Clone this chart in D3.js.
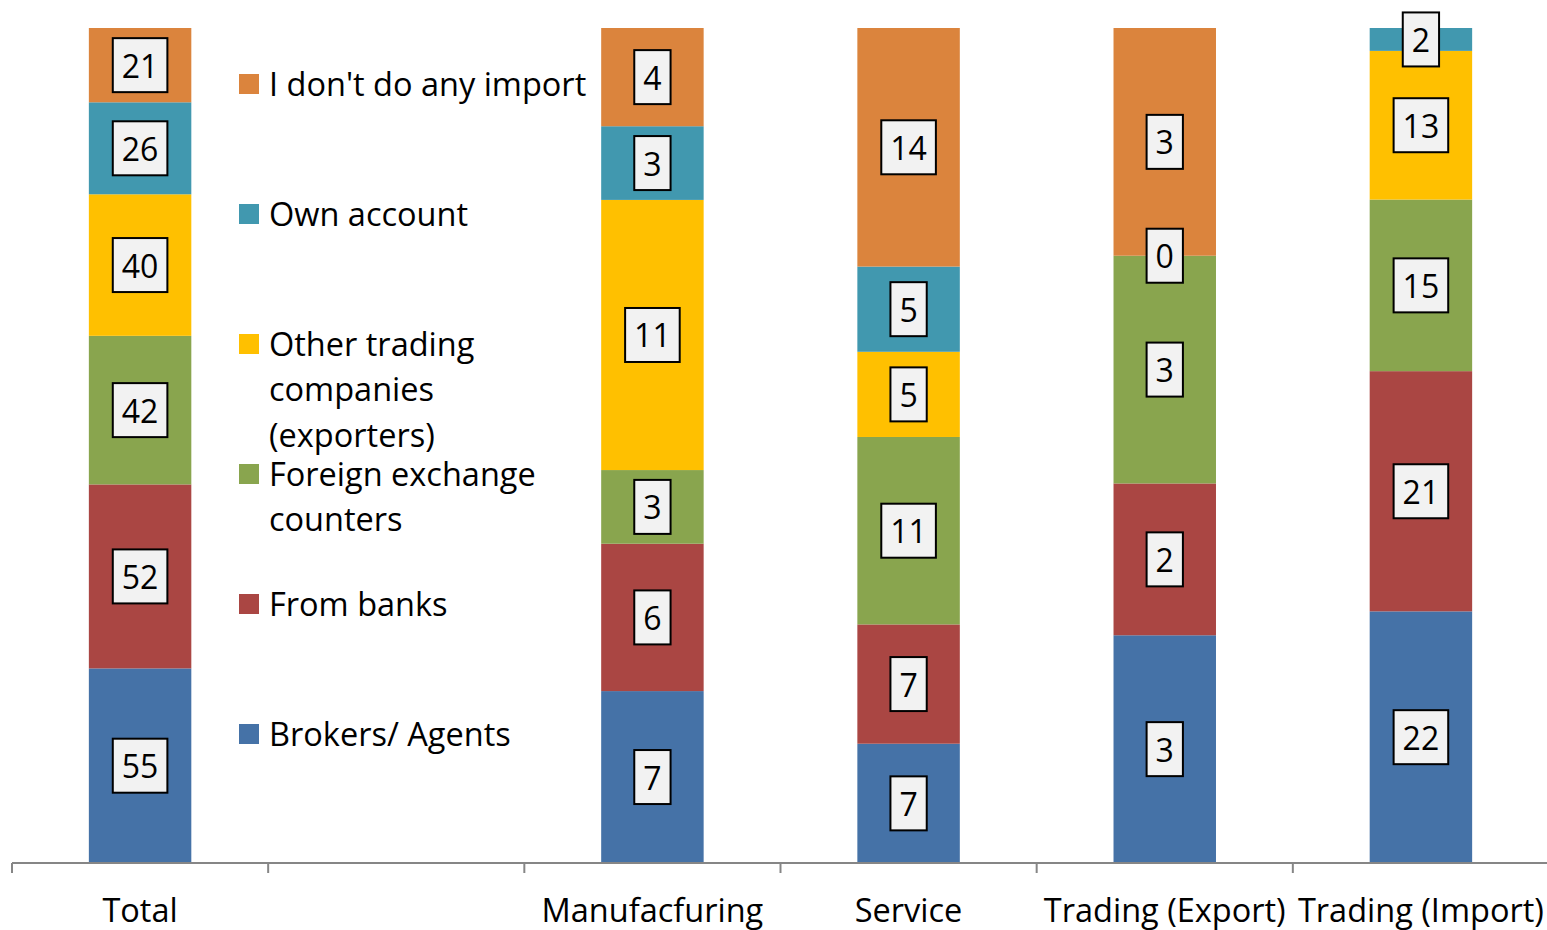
<!DOCTYPE html>
<html>
<head>
<meta charset="utf-8">
<script src="https://cdn.jsdelivr.net/npm/d3@7"></script>
<style>
  body { margin: 0; background: #fff; }
  text { font-family: "Open Sans", "Noto Sans", sans-serif; fill: #000; }
</style>
</head>
<body>
<div id="svgContainer"></div>
<script>
// categories (second slot is empty, the legend sits there)
var categories = ["Total", "", "Manufacfuring", "Service", "Trading (Export)", "Trading (Import)"];
var seriesNames = ["Brokers/ Agents", "From banks", "Foreign exchange counters",
                   "Other trading companies (exporters)", "Own account", "I don't do any import"];

var brokers     = [55, null, 7, 7, 3, 22];
var banks       = [52, null, 6, 7, 2, 21];
var fxCounters  = [42, null, 3, 11, 3, 15];
var otherTrade  = [40, null, 11, 5, 0, 13];
var ownAccount  = [26, null, 3, 5, null, 2];
var noImport    = [21, null, 4, 14, 3, null];

var colors = ["#4572A7", "#AA4643", "#89A54E", "#FFC000", "#4198AF", "#DB843D"];

// legend lines, top to bottom
var legendLines = [
    ["I don't do any import"],
    ["Own account"],
    ["Other trading", "companies", "(exporters)"],
    ["Foreign exchange", "counters"],
    ["From banks"],
    ["Brokers/ Agents"]
];
var legendColors = ["#DB843D", "#4198AF", "#FFC000", "#89A54E", "#AA4643", "#4572A7"];

var width = 1547, height = 930;

var svg = d3.select("#svgContainer").append("svg")
    .attr("width", width)
    .attr("height", height)
    .style("display", "block");

var allSeries = [brokers, banks, fxCounters, otherTrade, ownAccount, noImport];
var rows = categories.map((c, i) => {
    var r = { cat: c, idx: i };
    allSeries.forEach((s, k) => r["s" + k] = s[i]);
    return r;
});
var keys = allSeries.map((s, k) => "s" + k);

var stack = d3.stack()
    .keys(keys)
    .value((d, key) => d[key] || 0)
    .offset(d3.stackOffsetExpand);
var layers = stack(rows);

var x = d3.scaleBand()
    .domain(d3.range(categories.length))
    .range([12, 1549])
    .paddingInner(0.6)
    .paddingOuter(0.3);

var y = d3.scaleLinear().domain([0, 1]).range([863, 28]);

// bars
var groups = svg.append("g").selectAll("g")
    .data(layers)
    .enter().append("g")
    .attr("fill", (d, i) => colors[i]);

groups.selectAll("rect")
    .data(d => d.filter(p => !isNaN(p[1]) && p[1] > p[0]))
    .enter().append("rect")
    .attr("x", d => x(d.data.idx))
    .attr("width", x.bandwidth())
    .attr("y", d => y(d[1]))
    .attr("height", d => y(d[0]) - y(d[1]));

// axis
var step = x.step();
var axisG = svg.append("g");
axisG.append("line")
    .attr("x1", 12).attr("x2", 1547)
    .attr("y1", 863).attr("y2", 863)
    .attr("stroke", "#868686").attr("stroke-width", 2);

// tick marks sit between categories
axisG.selectAll("line.tick")
    .data(d3.range(categories.length))
    .enter().append("line")
    .attr("class", "tick")
    .attr("x1", d => x(d) - (step - x.bandwidth()) / 2)
    .attr("x2", d => x(d) - (step - x.bandwidth()) / 2)
    .attr("y1", 863).attr("y2", 873)
    .attr("stroke", "#868686").attr("stroke-width", 2);

axisG.selectAll("text")
    .data(categories)
    .enter().append("text")
    .attr("x", (d, i) => x(i) + x.bandwidth() / 2)
    .attr("y", 909)
    .attr("text-anchor", "middle")
    .attr("dominant-baseline", "central")
    .attr("font-size", 32.5)
    .text(d => d);

// value labels
var labelData = [];
layers.forEach((layer, k) => {
    layer.forEach(p => {
        var v = allSeries[k][p.data.idx];
        if (v == null) return;
        labelData.push({ v: v, idx: p.data.idx, mid: (p[0] + p[1]) / 2 });
    });
});

var lab = svg.append("g").selectAll("g")
    .data(labelData)
    .enter().append("g")
    .attr("transform", d => "translate(" + (x(d.idx) + x.bandwidth() / 2) + "," + y(d.mid) + ")");

lab.append("rect");
lab.append("text")
    .attr("text-anchor", "middle")
    .attr("dominant-baseline", "central")
    .attr("font-size", 32)
    .text(d => d.v);

lab.each(function() {
    var g = d3.select(this);
    var w = g.select("text").node().getComputedTextLength();
    g.select("rect")
        .attr("x", -w / 2 - 9)
        .attr("y", -27)
        .attr("width", w + 18)
        .attr("height", 54)
        .attr("fill", "#f2f2f2")
        .attr("stroke", "#000")
        .attr("stroke-width", 2);
});

// legend
var leg = svg.append("g").selectAll("g")
    .data(legendLines)
    .enter().append("g")
    .attr("transform", (d, i) => "translate(239," + (84 + i * 130) + ")");

leg.append("rect")
    .attr("x", 0).attr("y", -10)
    .attr("width", 20).attr("height", 20)
    .attr("fill", (d, i) => legendColors[i]);

leg.selectAll("text")
    .data(d => d)
    .enter().append("text")
    .attr("x", 30)
    .attr("y", (d, j) => j * 45.5 - 1)
    .attr("dominant-baseline", "central")
    .attr("font-size", 32.5)
    .text(d => d);
</script>
</body>
</html>
